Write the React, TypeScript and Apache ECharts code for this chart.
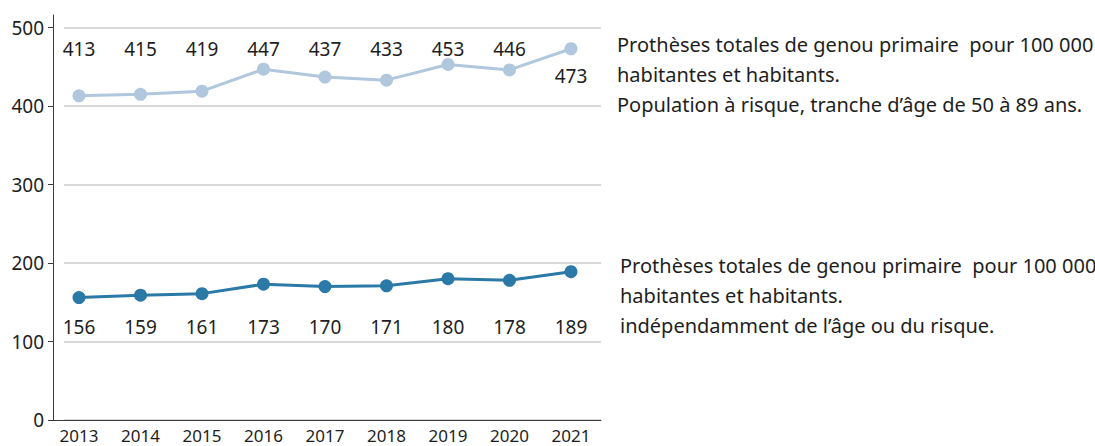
import React, { useEffect, useRef } from "react";
import * as echarts from "echarts";

const years = [2013, 2014, 2015, 2016, 2017, 2018, 2019, 2020, 2021];
const riskPopulation = [413, 415, 419, 447, 437, 433, 453, 446, 473];
const allPopulation = [156, 159, 161, 173, 170, 171, 180, 178, 189];
const yTicks = [0, 100, 200, 300, 400, 500];

const noteTop =
  "Prothèses totales de genou primaire  pour 100 000\nhabitantes et habitants.\nPopulation à risque, tranche d’âge de 50 à 89 ans.";
const noteBottom =
  "Prothèses totales de genou primaire  pour 100 000\nhabitantes et habitants.\nindépendamment de l’âge ou du risque.";

const FONT = "'Noto Sans', 'DejaVu Sans', sans-serif";
const TEXT = "#1e1e1e";
const LIGHT = "#b0c7de";
const DARK = "#2b79a6";
const TOP_LABEL_ROW = 473;
const BOTTOM_LABEL_ROW = 119;

const labelStyle = {
  fontFamily: FONT,
  fontSize: 19,
  color: TEXT,
  opacity: 1,
  textBorderWidth: 0,
  textShadowBlur: 0,
};

export default function App() {
  const ref = useRef<HTMLDivElement>(null);
  useEffect(() => {
    document.body.style.margin = "0";
    const chart = echarts.init(ref.current!, null, { renderer: "svg" });
    const last = years.length - 1;
    const option: any = {
      animation: false,
      backgroundColor: "#ffffff",
      textStyle: { fontFamily: FONT },
      grid: { left: 64, right: 494, top: 15, bottom: 26 },
      title: [
        {
          text: noteTop,
          left: 617,
          top: 29,
          padding: 0,
          textStyle: { fontFamily: FONT, fontSize: 20, fontWeight: "normal", color: TEXT, lineHeight: 30 },
        },
        {
          text: noteBottom,
          left: 620,
          top: 250,
          padding: 0,
          textStyle: { fontFamily: FONT, fontSize: 20, fontWeight: "normal", color: TEXT, lineHeight: 30 },
        },
      ],
      xAxis: {
        type: "value",
        min: 2012.756,
        max: 2021.488,
        splitLine: { show: false },
        axisTick: { show: false },
        axisLine: { show: true, lineStyle: { color: "#3a3a3a", width: 1 } },
        axisLabel: {
          customValues: years,
          formatter: (v: number) => String(v),
          fontFamily: FONT,
          fontSize: 17,
          color: TEXT,
          margin: 7,
        },
      },
      yAxis: {
        type: "value",
        min: 0,
        max: 516,
        interval: 100,
        offset: 11,
        axisLine: { show: true, lineStyle: { color: "#3a3a3a", width: 1 } },
        axisTick: { show: true, length: 5, customValues: yTicks, lineStyle: { color: "#3a3a3a" } },
        axisLabel: {
          customValues: yTicks,
          fontFamily: FONT,
          fontSize: 19,
          color: TEXT,
          margin: 9,
        },
        splitLine: { show: true, lineStyle: { color: "#d9d9d9", width: 2 } },
      },
      graphic: [
        {
          type: "line",
          shape: { x1: 53, y1: 420.5, x2: 65, y2: 420.5 },
          style: { stroke: "#3a3a3a", lineWidth: 1 },
          silent: true,
        },
      ],
      series: [
        {
          type: "line",
          data: years.map((y, i) => ({
            value: [y, riskPopulation[i]],
            label: i === last ? { show: true, position: "bottom", distance: 11 } : { show: false },
          })),
          symbol: "circle",
          symbolSize: 13,
          lineStyle: { color: LIGHT, width: 3 },
          itemStyle: { color: LIGHT },
          label: { ...labelStyle, formatter: (p: any) => String(p.value[1]) },
          z: 3,
        },
        {
          type: "line",
          data: years.map((y, i) => [y, allPopulation[i]]),
          symbol: "circle",
          symbolSize: 13,
          lineStyle: { color: DARK, width: 3 },
          itemStyle: { color: DARK },
          label: { show: false },
          z: 3,
        },
        {
          type: "scatter",
          silent: true,
          symbolSize: 0,
          itemStyle: { color: TEXT, opacity: 1 },
          data: years.map((y, i) => ({
            value: [y, TOP_LABEL_ROW, riskPopulation[i]],
            label: { show: i !== last },
          })),
          label: {
            ...labelStyle,
            position: "top",
            distance: -10,
            formatter: (p: any) => String(p.value[2]),
          },
        },
        {
          type: "scatter",
          silent: true,
          symbolSize: 0,
          itemStyle: { color: TEXT, opacity: 1 },
          data: years.map((y, i) => [y, BOTTOM_LABEL_ROW, allPopulation[i]]),
          label: {
            ...labelStyle,
            show: true,
            position: "top",
            distance: -10,
            formatter: (p: any) => String(p.value[2]),
          },
        },
      ],
    };
    chart.setOption(option);
    return () => chart.dispose();
  }, []);
  return <div ref={ref} style={{ width: 1095, height: 446 }} />;
}
